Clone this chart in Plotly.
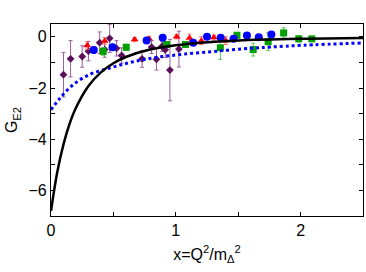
import plotly.graph_objects as go

# Theory curves
black_x = [0, 0.05, 0.1, 0.15, 0.2, 0.3, 0.4, 0.5, 0.6, 0.8, 1.0, 1.2, 1.5, 2.0, 2.5]
black_y = [-6.8, -5.29, -4.20, -3.38, -2.77, -1.92, -1.39, -1.035, -0.79, -0.49, -0.33, -0.23, -0.14, -0.075, -0.044]

blue_x = [0, 0.07, 0.18, 0.31, 0.45, 0.58, 0.71, 0.85, 1.06, 1.33, 1.6, 1.76, 2.02, 2.5]
blue_y = [-2.85, -2.41, -1.86, -1.47, -1.25, -1.07, -0.92, -0.80, -0.68, -0.56, -0.45, -0.40, -0.33, -0.24]

# Data sets
purple_x = [0.10, 0.157, 0.25, 0.30, 0.39, 0.43, 0.47, 0.525, 0.566, 0.73, 0.806, 0.845, 0.89, 0.915, 0.953, 1.025]
purple_y = [-1.48, -0.86, -0.77, -0.56, -0.23, -0.50, -0.06, -0.45, -0.73, -0.86, -0.40, -0.88, -0.37, -0.51, -1.30, -0.48]
purple_e = [0.87, 0.71, 0.42, 0.38, 0.42, 0.30, 0.55, 0.30, 0.30, 0.33, 0.25, 0.42, 0.20, 0.30, 1.20, 0.70]

red_x = [0.29, 0.43, 0.67, 0.785, 1.007, 1.11, 1.205, 1.305, 1.40]
red_y = [-0.34, -0.16, -0.11, -0.08, 0.0, -0.05, -0.15, -0.03, -0.15]
red_e = [0.15, 0.13, 0.08, 0.08, 0.08, 0.15, 0.15, 0.10, 0.15]

blue_px = [0.343, 0.493, 0.766, 0.895, 1.14, 1.25, 1.36, 1.463, 1.57, 1.665, 1.766]
blue_py = [-0.52, -0.41, -0.14, -0.04, -0.23, 0.0, -0.04, -0.08, 0.05, -0.02, 0.09]
blue_pe = [0.12, 0.12, 0.08, 0.08, 0.10, 0.08, 0.08, 0.06, 0.10, 0.06, 0.08]

green_x = [0.418, 0.603, 0.927, 1.077, 1.357, 1.49, 1.62, 1.74, 1.864, 1.985, 2.09]
green_y = [-0.57, -0.41, -0.30, -0.30, -0.43, 0.06, -0.50, -0.19, 0.15, -0.08, -0.08]
green_e = [0.15, 0.12, 0.10, 0.10, 0.45, 0.10, 0.25, 0.35, 0.20, 0.12, 0.05]

fig = go.Figure()

def data_trace(x, y, e, sym, col, ecol, size):
    return go.Scatter(
        x=x, y=y, mode="markers",
        marker=dict(symbol=sym, color=col, size=size, line=dict(width=0)),
        error_y=dict(type="data", array=e, visible=True, color=ecol, thickness=1, width=2),
        showlegend=False,
    )

fig.add_trace(data_trace(purple_x, purple_y, purple_e, "diamond", "#5b0f5b", "#9b5f9b", 6))
fig.add_trace(data_trace(green_x, green_y, green_e, "square", "#00a000", "#60c060", 7))
fig.add_trace(data_trace(red_x, red_y, red_e, "triangle-up", "#ff0000", "#ff6060", 7))
fig.add_trace(data_trace(blue_px, blue_py, blue_pe, "circle", "#0000ff", "#5050ff", 8))

fig.add_trace(go.Scatter(x=blue_x, y=blue_y, mode="lines", line=dict(color="#0000ff", width=3, dash="dot", shape="spline"), showlegend=False))
fig.add_trace(go.Scatter(x=black_x, y=black_y, mode="lines", line=dict(color="black", width=2.5, shape="spline"), showlegend=False))

axis_common = dict(
    showline=True, linecolor="black", linewidth=1.2, mirror="ticks",
    ticks="inside", ticklen=4, tickcolor="black", showgrid=False, zeroline=False,
    tickfont=dict(size=16, color="black"), automargin=False,
)

fig.update_xaxes(
    range=[0, 2.5], tick0=0, dtick=1,
    minor=dict(dtick=0.5, ticks="inside", ticklen=4, tickcolor="black", showgrid=False),
    title=dict(text="x=Q<sup>2</sup>/m<sub>Δ</sub><sup>2</sup>", font=dict(size=16, color="black"), standoff=10),
    **axis_common,
)
fig.update_yaxes(
    range=[-7, 0.5], tick0=0, dtick=2,
    minor=dict(dtick=1, ticks="inside", ticklen=4, tickcolor="black", showgrid=False),
    title=dict(text="G<sub>E2</sub>", font=dict(size=16, color="black"), standoff=6),
    **axis_common,
)

fig.update_layout(
    width=366, height=272,
    margin=dict(l=51, r=3, t=24, b=56),
    paper_bgcolor="white", plot_bgcolor="white",
    font=dict(family="Liberation Sans, Arial, sans-serif", color="black"),
    showlegend=False,
)

fig.write_html(
    "out.html",
    config={"responsive": False, "displayModeBar": False},
    post_script="document.body.style.margin='0';document.body.style.overflow='hidden';",
)
